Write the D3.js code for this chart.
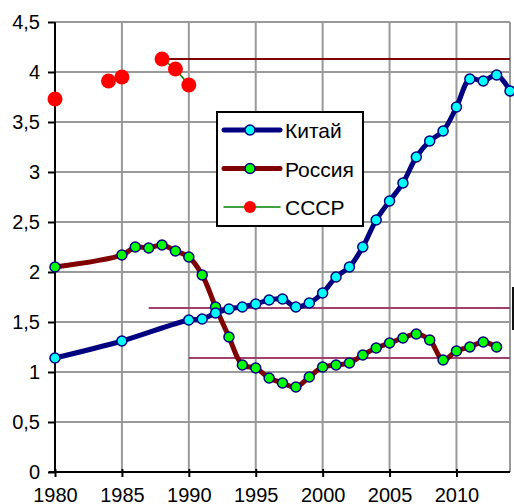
<!DOCTYPE html>
<html>
<head>
<meta charset="utf-8">
<script src="https://cdn.jsdelivr.net/npm/d3@7"></script>
<style>
  body { margin: 0; background: #fff; }
  text { font-family: "Liberation Sans", Arial, sans-serif; fill: #000; }
</style>
</head>
<body>
<div id="chart"></div>
<script>
// data
const chinaYears = [1980, 1985, 1990, 1991, 1992, 1993, 1994, 1995, 1996, 1997, 1998, 1999, 2000,
  2001, 2002, 2003, 2004, 2005, 2006, 2007, 2008, 2009, 2010, 2011, 2012, 2013, 2014];
const chinaValues = [1.14, 1.31, 1.52, 1.53, 1.59, 1.63, 1.65, 1.68, 1.72, 1.73, 1.65, 1.69, 1.79,
  1.95, 2.05, 2.25, 2.52, 2.71, 2.89, 3.15, 3.31, 3.41, 3.65, 3.93, 3.91, 3.97, 3.81];

const russiaYears = [1980, 1985, 1986, 1987, 1988, 1989, 1990, 1991, 1992, 1993, 1994, 1995, 1996,
  1997, 1998, 1999, 2000, 2001, 2002, 2003, 2004, 2005, 2006, 2007, 2008, 2009, 2010, 2011, 2012, 2013];
const russiaValues = [2.05, 2.17, 2.25, 2.24, 2.27, 2.21, 2.15, 1.97, 1.65, 1.35, 1.07, 1.04, 0.94,
  0.89, 0.85, 0.95, 1.05, 1.07, 1.09, 1.17, 1.24, 1.29, 1.34, 1.38, 1.32, 1.12, 1.21, 1.25, 1.30, 1.25];

const ussrYears = [1980, 1984, 1985, 1988, 1989, 1990];
const ussrValues = [3.73, 3.91, 3.95, 4.13, 4.03, 3.87];

// horizontal reference levels: [value, fromYear]
const refLevels = [[4.13, 1988], [1.64, 1987], [1.14, 1990]];

const xTicks = [1980, 1985, 1990, 1995, 2000, 2005, 2010];
const yTicks = [0, 0.5, 1, 1.5, 2, 2.5, 3, 3.5, 4, 4.5];
const legendNames = ['Китай', 'Россия', 'СССР'];

const margin = {top: 22, right: 4, bottom: 32, left: 55};
const width = 514 - margin.left - margin.right;
const height = 504 - margin.top - margin.bottom;

const svg = d3.select('#chart').append('svg')
  .attr('width', 514).attr('height', 504);
const g = svg.append('g')
  .attr('transform', 'translate(' + margin.left + ',' + margin.top + ')');

const x = d3.scaleLinear().domain([1980, 2014]).range([0, width]);
const y = d3.scaleLinear().domain([0, 4.5]).range([height, 0]);

// grid
g.selectAll('.vgrid').data(xTicks.concat([2014])).enter().append('line')
  .attr('x1', d => x(d)).attr('x2', d => x(d))
  .attr('y1', 0).attr('y2', height)
  .attr('stroke', '#999').attr('stroke-width', 2);
g.selectAll('.hgrid').data(yTicks).enter().append('line')
  .attr('x1', 0).attr('x2', width)
  .attr('y1', d => y(d)).attr('y2', d => y(d))
  .attr('stroke', '#999').attr('stroke-width', 2);

// axes
const xAxis = g.append('g').attr('transform', 'translate(0,' + height + ')')
  .call(d3.axisBottom(x).tickValues(xTicks).tickFormat(d3.format('d')).tickSize(5).tickPadding(11));
xAxis.select('.domain').remove();
xAxis.append('line').attr('x1', -6).attr('x2', width).attr('stroke', '#000').attr('stroke-width', 2);
xAxis.selectAll('.tick line').attr('y1', -3).attr('stroke-width', 2);

const yAxis = g.append('g')
  .call(d3.axisLeft(y).tickValues(yTicks).tickFormat(d => String(d).replace('.', ',')).tickSize(7).tickPadding(8));
yAxis.select('.domain').remove();
yAxis.append('line').attr('y1', 0).attr('y2', height).attr('stroke', '#000').attr('stroke-width', 2);
yAxis.selectAll('.tick line').attr('stroke-width', 2);

svg.selectAll('.tick text').style('font-size', '20px')
  .style('font-family', '"Liberation Sans", Arial, sans-serif');

// reference levels
g.selectAll('.ref').data(refLevels).enter().append('line')
  .attr('x1', d => x(d[1])).attr('x2', width)
  .attr('y1', d => y(d[0])).attr('y2', d => y(d[0]))
  .attr('stroke', (d, i) => i === 0 ? '#800000' : '#a0406e')
  .attr('stroke-width', 2);

// small dark mark at right edge
g.append('line')
  .attr('x1', width + 3).attr('x2', width + 3)
  .attr('y1', y(1.85)).attr('y2', y(1.42))
  .attr('stroke', '#111').attr('stroke-width', 2);

const china = chinaYears.map((d, i) => ({year: d, value: chinaValues[i]}));
const russia = russiaYears.map((d, i) => ({year: d, value: russiaValues[i]}));
const ussr = ussrYears.map((d, i) => ({year: d, value: ussrValues[i]}));

const smooth = d3.line().x(d => x(d.year)).y(d => y(d.value)).curve(d3.curveCatmullRom.alpha(0.5));

g.append('path').datum(russia).attr('d', smooth)
  .attr('fill', 'none').attr('stroke', '#800000').attr('stroke-width', 5);
g.append('path').datum(china).attr('d', smooth)
  .attr('fill', 'none').attr('stroke', '#000080').attr('stroke-width', 5);

g.selectAll('.rdot').data(russia).enter().append('circle')
  .attr('cx', d => x(d.year)).attr('cy', d => y(d.value)).attr('r', 5)
  .attr('fill', '#00ff00').attr('stroke', '#000080').attr('stroke-width', 1.5);
g.selectAll('.cdot').data(china).enter().append('circle')
  .attr('cx', d => x(d.year)).attr('cy', d => y(d.value)).attr('r', 5)
  .attr('fill', '#00ffff').attr('stroke', '#000080').attr('stroke-width', 1.5);

// USSR: thin line only between consecutive years
const ussrLine = d3.line().x(d => x(d.year)).y(d => y(d.value));
for (let i = 1; i < ussr.length; i++) {
  if (ussr[i].year - ussr[i - 1].year === 1) {
    g.append('path').datum([ussr[i - 1], ussr[i]]).attr('d', ussrLine)
      .attr('fill', 'none').attr('stroke', '#008000').attr('stroke-width', 1.5);
  }
}
g.selectAll('.udot').data(ussr).enter().append('circle')
  .attr('cx', d => x(d.year)).attr('cy', d => y(d.value)).attr('r', 7.5)
  .attr('fill', '#ff0000');

// legend
const legend = svg.append('g').attr('transform', 'translate(217,112)');
legend.append('rect').attr('width', 146).attr('height', 114)
  .attr('fill', '#fff').attr('stroke', '#000').attr('stroke-width', 2);
const lineColors = ['#000080', '#800000', '#008000'];
const lineWidths = [5, 5, 1.5];
legendNames.forEach((name, i) => {
  const ly = 18 + i * 38.5;
  legend.append('line').attr('x1', 7).attr('x2', 63).attr('y1', ly).attr('y2', ly)
    .attr('stroke', lineColors[i]).attr('stroke-width', lineWidths[i]).attr('stroke-linecap', 'round');
  if (i < 2) {
    legend.append('circle').attr('cx', 33).attr('cy', ly).attr('r', 5)
      .attr('fill', i === 0 ? '#00ffff' : '#00ff00').attr('stroke', '#000080').attr('stroke-width', 1.5);
  } else {
    legend.append('circle').attr('cx', 33).attr('cy', ly).attr('r', 6).attr('fill', '#ff0000');
  }
  legend.append('text').attr('x', 68).attr('y', ly + 8)
    .style('font-size', '21px').text(name);
});
</script>
</body>
</html>
